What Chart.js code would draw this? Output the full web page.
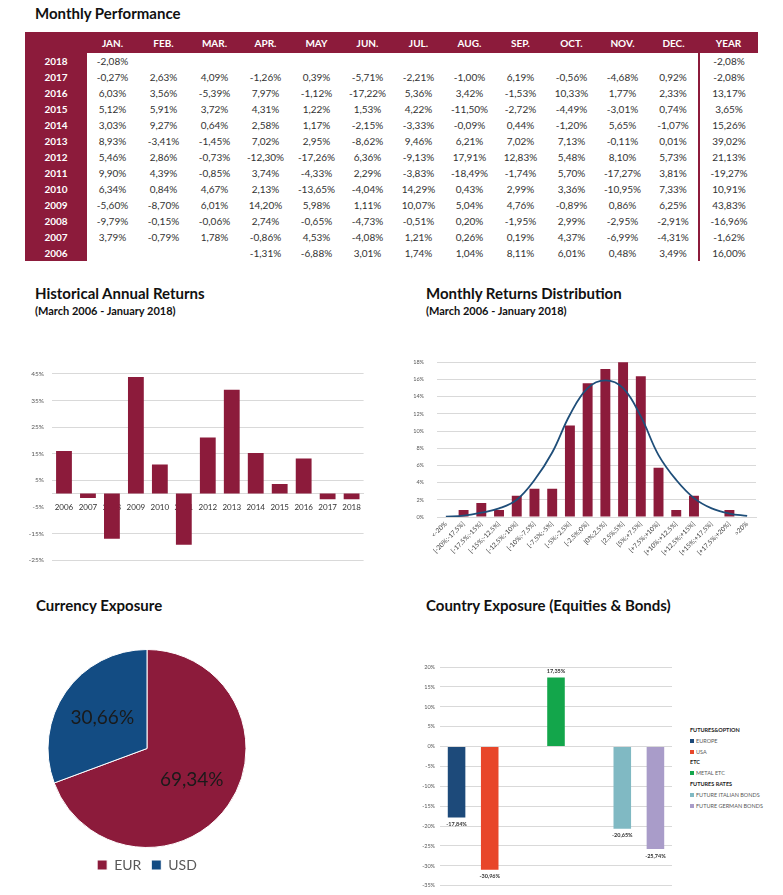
<!DOCTYPE html>
<html>
<head>
<meta charset="utf-8">
<title>Monthly Performance</title>
<script src="https://cdn.jsdelivr.net/npm/chart.js@4.4.1/dist/chart.umd.min.js"></script>
<style>
  body { margin: 0; width: 783px; height: 895px; background: #fff; position: relative; overflow: hidden;
         font-family: Lato, 'Open Sans', sans-serif; color: #111; }
  .title { position: absolute; font-weight: bold; font-size: 15px; line-height: 18px; white-space: nowrap; }
  .sub { position: absolute; font-weight: bold; font-size: 11px; line-height: 14px; white-space: nowrap; }
  canvas { position: absolute; }
  #perf { position: absolute; left: 25px; top: 32px; width: 733px; table-layout: fixed; border-collapse: collapse;
          font-size: 10px; }
  #perf th, #perf td { padding: 0; text-align: center; white-space: nowrap; }
  #perf tr.head th { height: 21px; background: #8c1b3b; color: #fff; font-weight: bold; }
  #perf th.yr { height: 16px; line-height: 16px; background: #8c1b3b; color: #fff; font-weight: bold; }
  #perf td { height: 16px; line-height: 16px; color: #333; }
  #perf td.ytd { border-left: 2px solid #8c1b3b; }
  #countryLegend { position: absolute; left: 690px; top: 725px; font-size: 5.5px; line-height: 10.8px; color: #595959; }
  #countryLegend .hd { font-weight: bold; color: #222; }
  #countryLegend .sw { display: inline-block; width: 4px; height: 4px; margin-right: 2px; vertical-align: 0; }
</style>
</head>
<body>
<div class="title" style="left:35px; top:4px;">Monthly Performance</div>
<table id="perf"></table>

<div class="title" style="left:35px; top:284px;">Historical Annual Returns</div>
<div class="sub" style="left:35px; top:304px;">(March 2006 - January 2018)</div>
<canvas id="annual" width="350" height="210" style="left:20px; top:362px;"></canvas>

<div class="title" style="left:426px; top:284px;">Monthly Returns Distribution</div>
<div class="sub" style="left:426px; top:304px;">(March 2006 - January 2018)</div>
<canvas id="dist" width="360" height="221" style="left:400px; top:346px;"></canvas>

<div class="title" style="left:36px; top:596px;">Currency Exposure</div>
<canvas id="currency" width="254" height="237" style="left:20px; top:645px;"></canvas>

<div class="title" style="left:426px; top:596px;">Country Exposure (Equities &amp; Bonds)</div>
<canvas id="country" width="265" height="239" style="left:410px; top:655px;"></canvas>
<div id="countryLegend"></div>

<script>
const CRIMSON = '#8c1b3b';
const NAVY = '#134c83';
const FONT = "Lato, 'Open Sans', sans-serif";

// monthly performance table
const years = ['2018', '2017', '2016', '2015', '2014', '2013', '2012', '2011', '2010', '2009', '2008', '2007', '2006'];
const monthNames = ['JAN.', 'FEB.', 'MAR.', 'APR.', 'MAY', 'JUN.', 'JUL.', 'AUG.', 'SEP.', 'OCT.', 'NOV.', 'DEC.'];
const monthlyReturns = [
  [-2.08, null, null, null, null, null, null, null, null, null, null, null],
  [-0.27, 2.63, 4.09, -1.26, 0.39, -5.71, -2.21, -1.00, 6.19, -0.56, -4.68, 0.92],
  [6.03, 3.56, -5.39, 7.97, -1.12, -17.22, 5.36, 3.42, -1.53, 10.33, 1.77, 2.33],
  [5.12, 5.91, 3.72, 4.31, 1.22, 1.53, 4.22, -11.50, -2.72, -4.49, -3.01, 0.74],
  [3.03, 9.27, 0.64, 2.58, 1.17, -2.15, -3.33, -0.09, 0.44, -1.20, 5.65, -1.07],
  [8.93, -3.41, -1.45, 7.02, 2.95, -8.62, 9.46, 6.21, 7.02, 7.13, -0.11, 0.01],
  [5.46, 2.86, -0.73, -12.30, -17.26, 6.36, -9.13, 17.91, 12.83, 5.48, 8.10, 5.73],
  [9.90, 4.39, -0.85, 3.74, -4.33, 2.29, -3.83, -18.49, -1.74, 5.70, -17.27, 3.81],
  [6.34, 0.84, 4.67, 2.13, -13.65, -4.04, 14.29, 0.43, 2.99, 3.36, -10.95, 7.33],
  [-5.60, -8.70, 6.01, 14.20, 5.98, 1.11, 10.07, 5.04, 4.76, -0.89, 0.86, 6.25],
  [-9.79, -0.15, -0.06, 2.74, -0.65, -4.73, -0.51, 0.20, -1.95, 2.99, -2.95, -2.91],
  [3.79, -0.79, 1.78, -0.86, 4.53, -4.08, 1.21, 0.26, 0.19, 4.37, -6.99, -4.31],
  [null, null, null, -1.31, -6.88, 3.01, 1.74, 1.04, 8.11, 6.01, 0.48, 3.49]
];
const yearReturns = [-2.08, -2.08, 13.17, 3.65, 15.26, 39.02, 21.13, -19.27, 10.91, 43.83, -16.96, -1.62, 16.00];

// historical annual returns (oldest first)
const annualYears = years.slice().reverse();
const annualValues = yearReturns.slice().reverse();
const annualTicks = [-25, -15, -5, 5, 15, 25, 35, 45];

// monthly returns distribution
const distBins = ['<-20%', '[-20%;-17,5%]', '[-17,5%;-15%]', '[-15%;-12,5%]', '[-12,5%;-10%]', '[-10%;-7,5%]',
  '[-7,5%;-5%]', '[-5%;-2,5%]', '[-2,5%;0%]', '[0%;2,5%]', '[2,5%;5%]', '[5%;+7,5%]', '[+7,5%;+10%]',
  '[+10%;+12,5%]', '[+12,5%;+15%]', '[+15%;+17,5%]', '[+17,5%;+20%]', '>20%'];
const distFreq = [0, 0.82, 1.64, 0.82, 2.46, 3.28, 3.28, 10.66, 15.57, 17.21, 18.03, 16.39, 5.74, 0.82, 2.46, 0, 0.82, 0];
const normalCurve = [0.05, 0.15, 0.5, 1.0, 2.0, 4.3, 7.5, 11.9, 15.0, 15.9, 15.0, 11.7, 7.2, 4.3, 2.2, 1.0, 0.4, 0.12];

// currency exposure
const currencyLabels = ['EUR', 'USD'];
const currencyShares = [69.34, 30.66];

// country exposure
const countryLabels = ['EUROPE', 'USA', '', 'METAL ETC', '', 'FUTURE ITALIAN BONDS', 'FUTURE GERMAN BONDS'];
const countryGroups = ['FUTURES&OPTION', 'FUTURES&OPTION', null, 'ETC', null, 'FUTURES RATES', 'FUTURES RATES'];
const countryValues = [-17.84, -30.96, null, 17.35, null, -20.65, -25.74];
const countryColors = ['#1d4a7a', '#e8462a', '#fff', '#13a64b', '#fff', '#80b9c3', '#a99cc9'];

const fmt = v => v == null ? '' : v.toFixed(2).replace('.', ',') + '%';

Chart.defaults.font.family = FONT;
Chart.defaults.animation = false;

// table
let html = '<colgroup><col style="width:62px">' + monthNames.map(() => '<col style="width:51px">').join('') +
  '<col style="width:59px"></colgroup>';
html += '<tr class="head"><th></th>' + monthNames.map(m => '<th>' + m + '</th>').join('') + '<th>YEAR</th></tr>';
years.forEach((y, i) => {
  html += '<tr><th class="yr">' + y + '</th>' + monthlyReturns[i].map(v => '<td>' + fmt(v) + '</td>').join('') +
    '<td class="ytd">' + fmt(yearReturns[i]) + '</td></tr>';
});
document.getElementById('perf').innerHTML = html;

// annual returns
new Chart(document.getElementById('annual'), {
  type: 'bar',
  data: {
    labels: annualYears,
    datasets: [{ data: annualValues, backgroundColor: CRIMSON, barPercentage: 0.66, categoryPercentage: 1 }]
  },
  options: {
    responsive: false,
    layout: { padding: { top: 10, right: 3, bottom: 7, left: 0 } },
    plugins: { legend: { display: false }, tooltip: { enabled: false } },
    scales: {
      x: {
        position: { y: 0 },
        z: 1,
        grid: { display: false, drawTicks: false },
        border: { color: '#d9d9d9' },
        ticks: { color: '#333', font: { size: 8 }, padding: 9, maxRotation: 0, autoSkip: false }
      },
      y: {
        min: -25, max: 45,
        afterBuildTicks: s => { s.ticks = annualTicks.map(v => ({ value: v })); },
        afterFit: s => { s.width = 32; },
        ticks: { callback: v => v + '%', color: '#595959', font: { size: 6.5 }, padding: 8 },
        grid: { color: c => (c.tick && c.tick.value === -5) ? 'rgba(0,0,0,0)' : '#d9d9d9', drawTicks: false },
        border: { display: false }
      }
    }
  }
});

// distribution
new Chart(document.getElementById('dist'), {
  data: {
    labels: distBins,
    datasets: [
      { type: 'line', data: normalCurve, borderColor: '#1f4e79', borderWidth: 1.8, pointRadius: 0,
        tension: 0.4, fill: false, order: 0 },
      { type: 'bar', data: distFreq, backgroundColor: CRIMSON, barPercentage: 0.56, categoryPercentage: 1, order: 1 }
    ]
  },
  options: {
    responsive: false,
    layout: { padding: { top: 10, right: 4, bottom: 0, left: 0 } },
    plugins: { legend: { display: false }, tooltip: { enabled: false } },
    scales: {
      x: {
        grid: { display: false, drawTicks: false },
        border: { color: '#d9d9d9' },
        afterFit: s => { s.height = 50; },
        ticks: { color: '#404040', font: { size: 6.5 }, minRotation: 45, maxRotation: 45, autoSkip: false, padding: 3 }
      },
      y: {
        min: 0, max: 18,
        afterFit: s => { s.width = 37; },
        ticks: { stepSize: 2, callback: v => v + '%', color: '#595959', font: { size: 5.5 }, padding: 13 },
        grid: { color: '#d9d9d9', drawTicks: false },
        border: { display: false }
      }
    }
  }
});

// currency pie
const pieLabels = {
  id: 'pieLabels',
  afterDatasetsDraw(chart) {
    const ctx = chart.ctx;
    const meta = chart.getDatasetMeta(0);
    ctx.save();
    ctx.font = '19px ' + FONT;
    ctx.fillStyle = '#1a1a1a';
    ctx.textAlign = 'center';
    ctx.textBaseline = 'middle';
    meta.data.forEach((arc, i) => {
      const p = arc.getProps(['x', 'y', 'startAngle', 'endAngle', 'outerRadius'], true);
      const mid = (p.startAngle + p.endAngle) / 2;
      const r = p.outerRadius * 0.55;
      ctx.fillText(fmt(currencyShares[i]), p.x + Math.cos(mid) * r, p.y + Math.sin(mid) * r);
    });
    ctx.restore();
  }
};

new Chart(document.getElementById('currency'), {
  type: 'pie',
  data: {
    labels: currencyLabels,
    datasets: [{ data: currencyShares, backgroundColor: [CRIMSON, NAVY], borderColor: '#fff', borderWidth: 1 }]
  },
  options: {
    responsive: false,
    layout: { padding: { top: 4 } },
    plugins: {
      legend: {
        position: 'bottom',
        labels: { boxWidth: 10, boxHeight: 10, color: '#595959', font: { size: 14 }, padding: 10 }
      },
      tooltip: { enabled: false }
    }
  },
  plugins: [pieLabels]
});

// country exposure
const barLabels = {
  id: 'barLabels',
  afterDatasetsDraw(chart) {
    const ctx = chart.ctx;
    const meta = chart.getDatasetMeta(0);
    ctx.save();
    ctx.font = 'bold 5.5px ' + FONT;
    ctx.fillStyle = '#333';
    ctx.textAlign = 'center';
    ctx.textBaseline = 'middle';
    meta.data.forEach((bar, i) => {
      const v = countryValues[i];
      if (v == null) return;
      ctx.fillText(fmt(v), bar.x, v < 0 ? bar.y + 7 : bar.y - 6);
    });
    ctx.restore();
  }
};

new Chart(document.getElementById('country'), {
  type: 'bar',
  data: {
    labels: countryLabels,
    datasets: [{ data: countryValues, backgroundColor: countryColors, barPercentage: 0.53, categoryPercentage: 1 }]
  },
  options: {
    responsive: false,
    layout: { padding: { top: 12, right: 3, bottom: 5, left: 0 } },
    plugins: { legend: { display: false }, tooltip: { enabled: false } },
    scales: {
      x: { display: false },
      y: {
        min: -35, max: 20,
        afterFit: s => { s.width = 30; },
        ticks: { stepSize: 5, callback: v => v + '%', color: '#595959', font: { size: 5.5 }, padding: 5 },
        grid: { color: '#d9d9d9', drawTicks: false },
        border: { display: false }
      }
    }
  },
  plugins: [barLabels]
});

// grouped legend for country exposure
let leg = '';
let lastGroup = null;
countryLabels.forEach((lab, i) => {
  if (!lab) return;
  if (countryGroups[i] !== lastGroup) {
    leg += '<div class="hd">' + countryGroups[i] + '</div>';
    lastGroup = countryGroups[i];
  }
  leg += '<div><span class="sw" style="background:' + countryColors[i] + '"></span>' + lab + '</div>';
});
document.getElementById('countryLegend').innerHTML = leg;
</script>
</body>
</html>
